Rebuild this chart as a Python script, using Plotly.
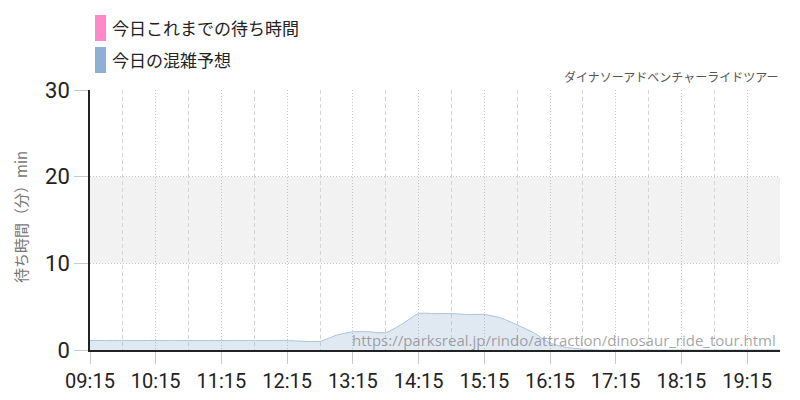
import plotly.graph_objects as go

# ---- data ----
times = [
    "09:15", "09:30", "09:45", "10:00", "10:15", "10:30", "10:45", "11:00",
    "11:15", "11:30", "11:45", "12:00", "12:15", "12:30", "12:45", "13:00",
    "13:15", "13:30", "13:45", "14:00", "14:15", "14:30", "14:45", "15:00",
    "15:15", "15:30", "15:45", "16:00", "16:15", "16:30", "16:45", "17:00",
    "17:15", "17:30", "17:45", "18:00", "18:15", "18:30", "18:45", "19:00",
    "19:15", "19:30", "19:45",
]
forecast = [
    1.1, 1.1, 1.1, 1.1, 1.1, 1.1, 1.1, 1.1,
    1.1, 1.1, 1.1, 1.1, 1.1, 1.0, 1.0, 1.7,
    2.1, 2.1, 2.0, 3.0, 4.2, 4.2, 4.2, 4.1,
    4.1, 3.7, 2.9, 2.0, 0.8, 0.3, 0.1, 0.0,
    0.0, 0.0, 0.0, 0.0, 0.0, 0.0, 0.0, 0.0,
    0.0, 0.0, 0.0,
]
actual_times = []
actual_values = []
tick_labels = ["09:15", "10:15", "11:15", "12:15", "13:15", "14:15",
               "15:15", "16:15", "17:15", "18:15", "19:15"]
y_ticks = [0, 10, 20, 30]
series_names = ["今日これまでの待ち時間", "今日の混雑予想"]
series_colors = ["#ff88c8", "#8fb0d0"]
subtitle = "ダイナソーアドベンチャーライドツアー"
watermark = "https://parksreal.jp/rindo/attraction/dinosaur_ride_tour.html"
y_title = "待ち時間（分）min"

DAY = "2024-01-01 "
xs = [DAY + t for t in times]

JP = "Noto Sans CJK JP"
NUM = "Roboto, sans-serif"

fig = go.Figure()
fig.add_trace(go.Scatter(
    x=[DAY + t for t in actual_times], y=actual_values, mode="lines",
    line=dict(color=series_colors[0], width=2), name=series_names[0],
    showlegend=False,
))
fig.add_trace(go.Scatter(
    x=xs, y=forecast, mode="lines", fill="tozeroy",
    line=dict(color="#a9c3db", width=1, shape="spline", smoothing=0.6),
    fillcolor="rgba(143,176,208,0.28)", name=series_names[1],
    showlegend=False, hoverinfo="skip",
))

# page offset of the figure (default body margin)
OFF = 8
PL, PR, PT, PB = 90, 780, 90, 350
W, H = PR - PL, PB - PT


def px(xp):
    return (xp - PL) / W


def py(yp):
    return (PB - yp) / H


shapes = [
    dict(type="rect", xref="paper", yref="y", x0=0, x1=1, y0=10, y1=20,
         fillcolor="#f2f2f2", line=dict(width=0), layer="below"),
]
annotations = []
# custom legend
leg_y = [28, 60]
for i, (nm, col) in enumerate(zip(series_names, series_colors)):
    yc = leg_y[i]
    shapes.append(dict(type="rect", xref="paper", yref="paper",
                       x0=px(95), x1=px(106), y0=py(yc + 13), y1=py(yc - 13),
                       fillcolor=col, line=dict(width=0)))
    annotations.append(dict(text=nm, xref="paper", yref="paper",
                            x=px(110), y=py(yc),
                            xanchor="left", yanchor="middle", showarrow=False,
                            font=dict(family=JP, size=17, color="#222")))
annotations.append(dict(text=subtitle, xref="paper", yref="paper", x=1,
                        y=py(77), xanchor="right", yanchor="middle",
                        showarrow=False,
                        font=dict(family=JP, size=12, color="#555")))
annotations.append(dict(text=watermark, xref="paper", yref="paper",
                        x=px(778), y=py(340),
                        xanchor="right", yanchor="middle", showarrow=False,
                        font=dict(family="Open Sans, Noto Sans, sans-serif",
                                  size=15, color="rgba(125,125,125,0.7)")))
annotations.append(dict(text=y_title, xref="paper", yref="paper",
                        x=px(20), y=py(217), textangle=-90,
                        xanchor="center", yanchor="middle", showarrow=False,
                        borderpad=0,
                        font=dict(family=JP, size=15, color="#777")))

fig.update_layout(
    width=800, height=400,
    margin=dict(l=PL - OFF, r=800 + OFF - PR, t=PT - OFF, b=400 + OFF - PB,
                autoexpand=False),
    paper_bgcolor="white", plot_bgcolor="white",
    shapes=shapes, annotations=annotations, showlegend=False,
    xaxis=dict(
        type="date", automargin=False,
        range=[DAY + "09:15", DAY + "19:45"],
        tickvals=[DAY + t for t in tick_labels], ticktext=tick_labels,
        ticks="outside", ticklen=12, tickcolor="#c8c8c8", tickwidth=1,
        showgrid=True, gridcolor="#c4c4c4", griddash="1px,2px", gridwidth=1,
        minor=dict(dtick=60 * 60 * 1000, tick0=DAY + "09:45", showgrid=True,
                   gridcolor="#d4d4d4", griddash="4px,3px", gridwidth=1,
                   ticks=""),
        showline=True, linecolor="#222", linewidth=1.5,
        tickfont=dict(family=NUM, size=20, color="#222"),
        zeroline=False, fixedrange=True,
    ),
    yaxis=dict(
        range=[0, 30], tickvals=y_ticks, automargin=False,
        ticks="outside", ticklen=14, tickcolor="#c8c8c8", tickwidth=1,
        showgrid=True, gridcolor="#c4c4c4", griddash="1px,2px", gridwidth=1,
        showline=True, linecolor="#222", linewidth=1.5,
        tickfont=dict(family=NUM, size=22, color="#222"),
        zeroline=False, fixedrange=True,
    ),
)

fig.write_html("out.html")
